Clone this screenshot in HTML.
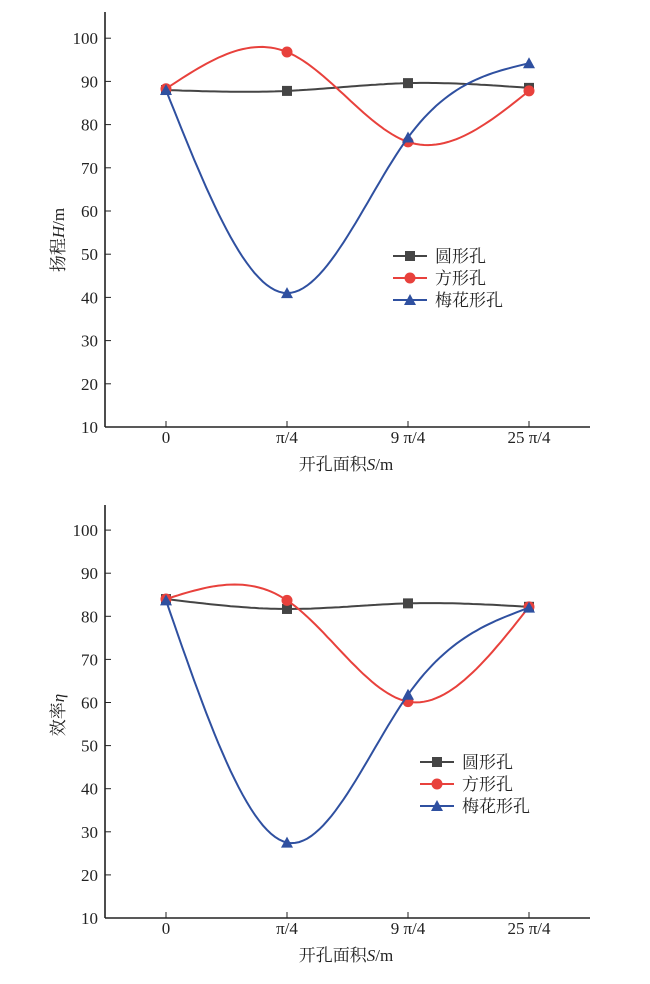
<!DOCTYPE html>
<html><head><meta charset="utf-8"><style>
body{margin:0;background:#fff}
svg text{font-family:"Liberation Serif","Noto Serif CJK SC",serif;fill:#222}
</style></head><body>
<svg id="s" width="650" height="979" xmlns="http://www.w3.org/2000/svg"></svg>
<script>
const s=document.getElementById('s');let h='';
const xs=[166,287,408,529];
function spline(pts){
 const n=pts.length,x=pts.map(p=>p[0]),y=pts.map(p=>p[1]);
 const hh=[],al=[0],l=[1],mu=[0],z=[0],c=new Array(n).fill(0),b=[],d=[];
 for(let i=0;i<n-1;i++)hh.push(x[i+1]-x[i]);
 for(let i=1;i<n-1;i++)al.push(3/hh[i]*(y[i+1]-y[i])-3/hh[i-1]*(y[i]-y[i-1]));
 for(let i=1;i<n-1;i++){l[i]=2*(x[i+1]-x[i-1])-hh[i-1]*mu[i-1];mu[i]=hh[i]/l[i];z[i]=(al[i]-hh[i-1]*z[i-1])/l[i];}
 for(let j=n-2;j>=0;j--){c[j]=z[j]-mu[j]*c[j+1];b[j]=(y[j+1]-y[j])/hh[j]-hh[j]*(c[j+1]+2*c[j])/3;d[j]=(c[j+1]-c[j])/(3*hh[j]);}
 let p='M'+x[0]+' '+y[0];
 for(let j=0;j<n-1;j++)for(let t=1;t<=30;t++){const dx=hh[j]*t/30;p+=' L'+(x[j]+dx).toFixed(1)+' '+(y[j]+b[j]*dx+c[j]*dx*dx+d[j]*dx*dx*dx).toFixed(1);}
 return p;}
function chart(y10,per,top,ylab,series,leg){
 const Y=v=>y10-(v-10)*per/10;
 h+=`<line x1="105" y1="${top}" x2="105" y2="${y10}" stroke="#222" stroke-width="1.6"/>`;
 h+=`<line x1="105" y1="${y10}" x2="590" y2="${y10}" stroke="#222" stroke-width="1.6"/>`;
 for(let v=10;v<=100;v+=10){const y=Y(v);h+=`<line x1="105" y1="${y}" x2="111" y2="${y}" stroke="#222"/><text x="98" y="${y+6}" font-size="17" text-anchor="end">${v}</text>`;}
 const lb=['0','π/4','9 π/4','25 π/4'];
 xs.forEach((x,i)=>{h+=`<line x1="${x}" y1="${y10}" x2="${x}" y2="${y10-6}" stroke="#222"/><text x="${x}" y="${y10+16}" font-size="17" text-anchor="middle">${lb[i]}</text>`;});
 h+=`<text x="346" y="${y10+43}" font-size="17" text-anchor="middle">开孔面积<tspan font-style="italic">S</tspan>/m</text>`;
 h+=`<text transform="translate(64 ${ylab[1]}) rotate(-90)" font-size="17" text-anchor="middle">${ylab[0]}</text>`;
 series.forEach((se,k)=>{
  const pts=se.v.map((v,i)=>[xs[i],Y(v)]);
  h+=`<path d="${spline(pts)}" fill="none" stroke="${se.c}" stroke-width="2"/>`;
  pts.forEach(p=>h+=mk(k,p[0],p[1],se.c));
  const ly=leg[1]+k*22;
  h+=`<line x1="${leg[0]}" y1="${ly}" x2="${leg[0]+34}" y2="${ly}" stroke="${se.c}" stroke-width="2"/>`+mk(k,leg[0]+17,ly,se.c);
  h+=`<text x="${leg[0]+42}" y="${ly+6}" font-size="17">${se.n}</text>`;
 });
}
function mk(k,x,y,c){
 if(k==0)return `<rect x="${x-5}" y="${y-5}" width="10" height="10" fill="${c}"/>`;
 if(k==1)return `<circle cx="${x}" cy="${y}" r="5.5" fill="${c}"/>`;
 return `<polygon points="${x},${y-6} ${x+6},${y+5} ${x-6},${y+5}" fill="${c}"/>`;}
const C=['#454545','#e8413c','#2f50a0'],N=['圆形孔','方形孔','梅花形孔'];
chart(427,43.2,12,['扬程<tspan font-style="italic">H</tspan>/m',240],[{v:[88,87.8,89.6,88.5]},{v:[88.3,96.8,76,87.8]},{v:[88,41,77,94.2]}].map((o,i)=>({...o,c:C[i],n:N[i]})),[393,256]);
chart(918,43.1,505,['效率<tspan font-style="italic">η</tspan>',715],[{v:[84,81.7,83,82.2]},{v:[84,83.7,60.2,82.2]},{v:[83.7,27.5,61.8,82]}].map((o,i)=>({...o,c:C[i],n:N[i]})),[420,762]);
s.innerHTML=h;
</script>
</body></html>
